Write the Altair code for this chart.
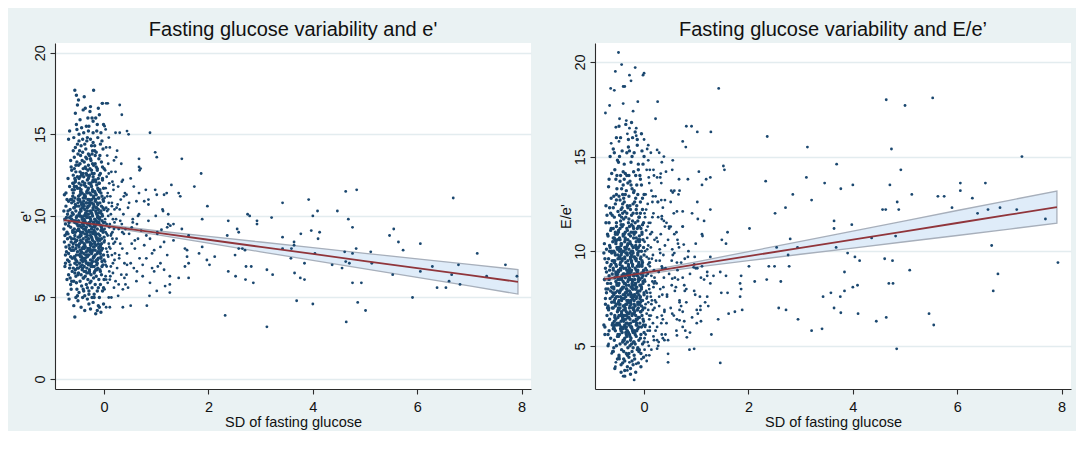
import altair as alt
import pandas as pd

# ---------------- data: left panel (e') ----------------
E_CORE_A = [(-0.77,9.2),(-0.76,8.4),(-0.75,9.8),(-0.74,7.1),(-0.73,10.6),(-0.72,8.9),(-0.71,6.1),(-0.76,11.3),(-0.74,9.5),(-0.72,7.8),(-0.70,10.1),(-0.73,8.1),(-0.71,11.0),(-0.75,6.9),(-0.77,10.3),(-0.70,8.6),(-0.72,9.9),(-0.74,7.6),(-0.71,9.0),(-0.73,11.4),(-0.70,7.3),(-0.75,8.8)]
E_CORE_B = [(-0.69,5.2),(-0.68,6.4),(-0.67,7.2),(-0.66,8.0),(-0.65,8.7),(-0.64,9.3),(-0.63,10.0),(-0.62,10.8),(-0.61,11.6),(-0.69,12.3),(-0.68,7.7),(-0.67,9.6),(-0.66,6.8),(-0.65,10.4),(-0.64,5.8),(-0.63,8.4),(-0.62,12.8),(-0.61,7.4),(-0.60,9.1),(-0.69,8.9),(-0.68,10.9),(-0.67,4.9),(-0.66,11.8),(-0.65,6.2),(-0.64,13.4),(-0.63,7.9),(-0.62,9.8),(-0.61,6.6),(-0.60,11.2),(-0.69,10.3),(-0.68,14.7),(-0.67,8.2),(-0.66,9.9),(-0.65,7.0),(-0.64,11.0),(-0.63,5.5),(-0.62,8.6),(-0.61,10.2),(-0.60,12.0),(-0.66,15.2),(-0.64,7.5),(-0.62,6.0),(-0.60,8.1),(-0.68,9.4),(-0.63,13.0)]
E_CORE_C = [(-0.56,3.8),(-0.56,17.7),(-0.53,17.4),(-0.55,16.3),(-0.58,14.8),(-0.52,15.3),(-0.59,14.0),(-0.57,13.6),(-0.54,13.1),(-0.51,14.4),(-0.59,12.5),(-0.58,12.0),(-0.57,11.6),(-0.56,11.1),(-0.55,10.7),(-0.54,10.3),(-0.53,9.9),(-0.52,9.5),(-0.51,9.1),(-0.50,8.7),(-0.59,8.3),(-0.58,7.9),(-0.57,7.5),(-0.56,7.1),(-0.55,6.7),(-0.54,6.3),(-0.53,5.9),(-0.52,5.5),(-0.51,5.1),(-0.50,4.8),(-0.59,10.1),(-0.58,9.7),(-0.57,9.2),(-0.56,8.8),(-0.55,8.4),(-0.54,8.0),(-0.53,7.6),(-0.52,7.2),(-0.51,6.8),(-0.50,6.4),(-0.59,11.4),(-0.58,10.9),(-0.57,10.5),(-0.56,9.6),(-0.55,12.2),(-0.54,12.7),(-0.53,11.8),(-0.52,13.3),(-0.51,12.4),(-0.50,11.0),(-0.58,6.0),(-0.56,6.5),(-0.54,7.3),(-0.52,8.5),(-0.50,9.4),(-0.57,8.6),(-0.55,9.0),(-0.53,10.6),(-0.51,7.8),(-0.59,9.0),(-0.57,12.9),(-0.55,14.2),(-0.53,15.6),(-0.51,16.8),(-0.52,10.0),(-0.54,5.0),(-0.58,4.5),(-0.50,13.8),(-0.56,12.3),(-0.53,8.2)]
E_CORE_D = [(-0.44,4.4),(-0.41,5.0),(-0.48,5.3),(-0.43,5.7),(-0.46,6.0),(-0.40,6.2),(-0.49,6.5),(-0.42,6.7),(-0.45,6.9),(-0.47,7.1),
(-0.44,7.3),(-0.41,7.4),(-0.48,7.6),(-0.43,7.8),(-0.46,7.9),(-0.40,8.1),(-0.49,8.2),(-0.42,8.4),(-0.45,8.5),(-0.47,8.7),
(-0.44,8.8),(-0.41,9.0),(-0.48,9.1),(-0.43,9.3),(-0.46,9.4),(-0.40,9.6),(-0.49,9.7),(-0.42,9.9),(-0.45,10.0),(-0.47,10.2),
(-0.44,10.3),(-0.41,10.5),(-0.48,10.6),(-0.43,10.8),(-0.46,10.9),(-0.40,11.1),(-0.49,11.2),(-0.42,11.4),(-0.45,11.5),(-0.47,11.7),
(-0.44,11.9),(-0.41,12.1),(-0.48,12.3),(-0.43,12.5),(-0.46,12.7),(-0.40,12.9),(-0.49,13.1),(-0.42,13.4),(-0.45,13.7),(-0.47,14.0),
(-0.44,14.3),(-0.41,14.7),(-0.48,15.0),(-0.43,15.4),(-0.46,15.9),(-0.40,16.5),(-0.49,17.1),(-0.42,7.0),(-0.45,7.7),(-0.47,8.3),
(-0.44,8.9),(-0.41,9.5),(-0.48,10.1),(-0.43,10.7),(-0.46,11.3),(-0.40,8.6),(-0.49,9.2),(-0.42,9.8),(-0.45,10.4),(-0.47,11.0),
(-0.44,6.4),(-0.41,7.2),(-0.48,12.0),(-0.43,12.6),(-0.46,13.2),(-0.40,5.5),(-0.49,6.8),(-0.42,8.0),(-0.45,9.0),(-0.47,10.0),
(-0.44,11.6),(-0.41,13.9),(-0.48,14.6),(-0.43,7.5),(-0.46,8.8)]
E_CORE_E = [(-0.37,4.2),(-0.32,4.9),(-0.39,5.4),(-0.34,5.8),(-0.31,6.1),(-0.36,6.3),(-0.38,6.6),(-0.33,6.8),(-0.30,7.0),(-0.35,7.2),
(-0.37,7.3),(-0.32,7.5),(-0.39,7.7),(-0.34,7.8),(-0.31,8.0),(-0.36,8.1),(-0.38,8.3),(-0.33,8.4),(-0.30,8.6),(-0.35,8.7),
(-0.37,8.9),(-0.32,9.0),(-0.39,9.2),(-0.34,9.3),(-0.31,9.5),(-0.36,9.6),(-0.38,9.8),(-0.33,9.9),(-0.30,10.1),(-0.35,10.2),
(-0.37,10.4),(-0.32,10.5),(-0.39,10.7),(-0.34,10.8),(-0.31,11.0),(-0.36,11.1),(-0.38,11.3),(-0.33,11.5),(-0.30,11.7),(-0.35,11.8),
(-0.37,12.0),(-0.32,12.2),(-0.39,12.4),(-0.34,12.6),(-0.31,12.8),(-0.36,13.0),(-0.38,13.3),(-0.33,13.5),(-0.30,13.8),(-0.35,14.1),
(-0.37,14.4),(-0.32,14.8),(-0.39,15.1),(-0.34,15.5),(-0.31,16.0),(-0.36,16.6),(-0.38,17.3),(-0.33,6.5),(-0.30,7.1),(-0.35,7.6),
(-0.37,8.2),(-0.32,8.8),(-0.39,9.4),(-0.34,10.0),(-0.31,10.6),(-0.36,11.2),(-0.38,11.9),(-0.33,12.5),(-0.30,13.1),(-0.35,9.1),
(-0.37,9.7),(-0.32,10.3),(-0.39,10.9),(-0.34,8.5),(-0.31,7.9),(-0.36,7.4),(-0.38,6.9),(-0.33,11.4),(-0.30,12.3),(-0.35,13.6),
(-0.37,5.1),(-0.32,5.6),(-0.39,6.2),(-0.34,8.9),(-0.31,9.5),(-0.36,10.1),(-0.38,10.6),(-0.33,14.6),(-0.30,15.2),(-0.35,12.9)]
E_CORE_F = [(-0.26,4.3),(-0.21,4.7),(-0.29,5.2),(-0.23,5.6),(-0.27,5.9),(-0.20,6.2),(-0.25,6.4),(-0.28,6.7),(-0.22,6.9),(-0.24,7.1),
(-0.26,7.3),(-0.21,7.4),(-0.29,7.6),(-0.23,7.8),(-0.27,7.9),(-0.20,8.1),(-0.25,8.2),(-0.28,8.4),(-0.22,8.5),(-0.24,8.7),
(-0.26,8.8),(-0.21,9.0),(-0.29,9.1),(-0.23,9.3),(-0.27,9.4),(-0.20,9.6),(-0.25,9.7),(-0.28,9.9),(-0.22,10.0),(-0.24,10.2),
(-0.26,10.3),(-0.21,10.5),(-0.29,10.6),(-0.23,10.8),(-0.27,10.9),(-0.20,11.1),(-0.25,11.3),(-0.28,11.4),(-0.22,11.6),(-0.24,11.8),
(-0.26,12.0),(-0.21,12.2),(-0.29,12.4),(-0.23,12.6),(-0.27,12.9),(-0.20,13.1),(-0.25,13.4),(-0.28,13.7),(-0.22,14.0),(-0.24,14.3),
(-0.26,14.7),(-0.21,15.1),(-0.29,15.5),(-0.23,16.0),(-0.27,16.4),(-0.20,17.7),(-0.25,6.0),(-0.28,6.6),(-0.22,7.2),(-0.24,7.7),
(-0.26,8.3),(-0.21,8.9),(-0.29,9.5),(-0.23,10.1),(-0.27,10.7),(-0.20,11.2),(-0.25,11.9),(-0.28,12.5),(-0.22,13.2),(-0.24,9.2),
(-0.26,9.8),(-0.21,10.4),(-0.29,11.0),(-0.23,8.6),(-0.27,8.0),(-0.20,7.5),(-0.25,7.0),(-0.28,6.5),(-0.22,12.1),(-0.24,12.8),
(-0.26,13.5),(-0.21,14.5),(-0.29,5.4),(-0.23,5.0),(-0.27,9.0),(-0.20,9.6),(-0.25,10.2),(-0.28,10.8),(-0.22,11.5),(-0.24,8.3),
(-0.26,16.7),(-0.21,15.8),(-0.29,4.6),(-0.23,13.8),(-0.27,7.8)]
E_CORE_G = [(-0.16,4.0),(-0.11,4.5),(-0.19,5.0),(-0.13,5.4),(-0.17,5.8),(-0.10,6.1),(-0.15,6.3),(-0.18,6.6),(-0.12,6.8),(-0.14,7.0),
(-0.16,7.2),(-0.11,7.4),(-0.19,7.5),(-0.13,7.7),(-0.17,7.9),(-0.10,8.0),(-0.15,8.2),(-0.18,8.3),(-0.12,8.5),(-0.14,8.6),
(-0.16,8.8),(-0.11,8.9),(-0.19,9.1),(-0.13,9.2),(-0.17,9.4),(-0.10,9.5),(-0.15,9.7),(-0.18,9.8),(-0.12,10.0),(-0.14,10.1),
(-0.16,10.3),(-0.11,10.4),(-0.19,10.6),(-0.13,10.8),(-0.17,10.9),(-0.10,11.1),(-0.15,11.3),(-0.18,11.5),(-0.12,11.7),(-0.14,11.9),
(-0.16,12.1),(-0.11,12.3),(-0.19,12.6),(-0.13,12.9),(-0.17,13.2),(-0.10,13.5),(-0.15,13.9),(-0.18,14.3),(-0.12,14.8),(-0.14,15.2),
(-0.16,16.0),(-0.11,16.6),(-0.19,6.5),(-0.13,7.1),(-0.17,7.6),(-0.10,8.1),(-0.15,8.7),(-0.18,9.3),(-0.12,9.9),(-0.14,10.5),
(-0.16,11.0),(-0.11,11.6),(-0.19,12.2),(-0.13,12.8),(-0.17,9.0),(-0.10,9.6),(-0.15,10.2),(-0.18,8.4),(-0.12,7.8),(-0.14,7.3),
(-0.16,6.7),(-0.11,5.6),(-0.19,5.2),(-0.13,4.2),(-0.17,11.4),(-0.10,12.0),(-0.15,13.0),(-0.18,14.0),(-0.12,10.7),(-0.14,9.5),
(-0.16,8.9),(-0.11,8.3),(-0.19,6.9),(-0.13,15.6),(-0.17,13.7)]
E_CORE_H = [(-0.06,4.1),(-0.01,4.6),(-0.09,5.0),(-0.03,5.4),(-0.07,5.8),(0.00,6.1),(-0.05,6.4),(-0.08,6.7),(-0.02,7.0),(-0.04,7.2),
(-0.06,7.4),(-0.01,7.6),(-0.09,7.8),(-0.03,8.0),(-0.07,8.2),(0.00,8.4),(-0.05,8.6),(-0.08,8.8),(-0.02,9.0),(-0.04,9.2),
(-0.06,9.4),(-0.01,9.6),(-0.09,9.8),(-0.03,10.0),(-0.07,10.2),(0.00,10.4),(-0.05,10.6),(-0.08,10.8),(-0.02,11.0),(-0.04,11.2),
(-0.06,11.4),(-0.01,11.7),(-0.09,12.0),(-0.03,12.3),(-0.07,12.6),(0.00,12.9),(-0.05,13.3),(-0.08,13.7),(-0.02,14.1),(-0.04,14.6),
(-0.06,15.1),(-0.01,15.6),(-0.09,16.2),(-0.03,16.9),(-0.07,6.6),(0.00,7.3),(-0.05,7.9),(-0.08,8.5),(-0.02,9.1),(-0.04,9.7),
(-0.06,10.3),(-0.01,10.9),(-0.09,11.5),(-0.03,12.2),(-0.07,8.1),(0.00,8.7),(-0.05,9.3),(-0.08,9.9),(-0.02,10.5),(-0.04,6.9),
(-0.06,7.5),(-0.01,5.6),(-0.09,4.4),(-0.03,13.0),(-0.07,14.4)]
E_CORE_X = [(-0.61,7.9),(-0.47,9.4),(-0.33,10.8),(-0.19,8.1),(-0.08,11.6),(-0.55,12.1),(-0.41,6.8),(-0.27,9.9),(-0.13,7.3),(-0.58,10.5),
(-0.44,11.4),(-0.30,8.6),(-0.16,12.2),(-0.06,9.1),(-0.52,7.0),(-0.38,8.0),(-0.24,11.0),(-0.10,10.2),(-0.60,9.0),(-0.46,12.4),
(-0.32,7.6),(-0.18,9.4),(-0.05,8.3),(-0.53,8.5),(-0.39,10.0),(-0.25,6.9),(-0.11,11.1),(-0.57,11.8),(-0.43,8.4),(-0.29,12.0),
(-0.15,10.5),(-0.07,7.7),(-0.50,10.8),(-0.36,9.2),(-0.22,7.9),(-0.12,9.9),(-0.59,6.8),(-0.45,7.5),(-0.31,11.6),(-0.17,8.9),
(-0.09,12.5),(-0.54,9.7),(-0.40,12.6),(-0.26,8.2),(-0.14,6.7),(-0.62,11.0),(-0.48,8.1),(-0.34,7.1),(-0.20,10.7),(-0.04,10.1),
(-0.56,7.4),(-0.42,10.5),(-0.28,9.6),(-0.21,12.4),(-0.10,8.6),(-0.51,11.7),(-0.37,11.2),(-0.23,9.0),(-0.13,9.6),(-0.35,6.6)]
E_SPREAD = [(0.04,4.4),(0.09,5.0),(0.01,5.5),(0.07,5.9),(0.03,6.3),(0.10,6.6),(0.05,6.9),(0.02,7.2),(0.08,7.5),(0.06,7.8),
(0.04,8.0),(0.09,8.3),(0.01,8.5),(0.07,8.8),(0.03,9.0),(0.10,9.3),(0.05,9.5),(0.02,9.8),(0.08,10.0),(0.06,10.3),
(0.04,10.5),(0.09,10.8),(0.01,11.1),(0.07,11.4),(0.03,11.7),(0.10,12.0),(0.05,12.4),(0.02,12.8),(0.08,13.2),(0.06,13.7),
(0.04,14.2),(0.09,14.8),(0.01,15.5),(0.07,16.9),(0.03,7.0),(0.10,8.1),(0.05,8.9),(0.02,9.6),(0.08,10.4),(0.06,11.2),
(0.04,6.1),(0.09,12.6),(0.01,9.2),(0.07,7.6),(0.03,15.3),
(0.14,5.0),(0.19,5.6),(0.11,6.1),(0.17,6.5),(0.13,6.9),(0.20,7.3),(0.15,7.6),(0.12,8.0),(0.18,8.3),(0.16,8.6),
(0.14,8.9),(0.19,9.2),(0.11,9.5),(0.17,9.8),(0.13,10.1),(0.20,10.4),(0.15,10.8),(0.12,11.2),(0.18,11.6),(0.16,12.1),
(0.14,12.7),(0.19,13.4),(0.11,14.2),(0.17,7.1),(0.13,8.8),(0.20,9.6),(0.15,10.6),(0.12,6.3),(0.18,11.9),(0.16,9.0),
(0.27,5.1),(0.36,5.5),(0.22,6.0),(0.33,6.4),(0.25,6.8),(0.39,7.1),(0.29,7.4),(0.21,7.7),(0.35,8.0),(0.31,8.3),(0.24,8.6),(0.38,8.9),(0.28,9.2),(0.34,9.5),(0.23,9.8),(0.37,10.1),(0.30,10.4),(0.26,10.7),(0.32,11.0),(0.40,11.4),
(0.27,11.8),(0.36,12.2),(0.22,12.7),(0.33,13.2),(0.25,14.0),(0.39,6.2),(0.29,7.6),(0.21,8.4),(0.35,9.0),(0.31,9.7),(0.24,10.5),(0.38,11.2),(0.28,5.8),(0.34,12.1),(0.23,13.6),
(0.46,5.6),(0.62,6.0),(0.43,6.4),(0.57,6.8),(0.51,7.1),(0.68,7.4),(0.44,7.7),(0.59,8.0),(0.53,8.3),(0.65,8.6),(0.48,8.9),(0.41,9.2),(0.63,9.5),(0.55,9.8),(0.67,10.1),
(0.46,10.5),(0.62,10.9),(0.43,11.3),(0.57,11.8),(0.51,12.3),(0.68,12.8),(0.44,7.0),(0.59,8.5),(0.53,9.3),(0.65,10.0),(0.48,10.8),(0.41,5.8),(0.63,6.6),(0.55,9.6),(0.67,13.0),
(0.74,6.3),(0.92,6.8),(1.08,7.1),(0.81,7.4),(1.21,7.6),(0.96,7.9),(0.77,8.2),(1.15,8.4),(0.88,8.6),(1.02,8.9),(0.71,9.1),(1.27,9.4),(0.85,9.7),(0.99,10.0),(1.12,10.4),
(0.74,7.0),(0.92,7.7),(1.08,8.1),(0.81,8.8),(1.21,9.3),(0.96,6.6),(0.77,10.9),(1.15,11.3),(0.88,5.9),(1.02,9.0)]
E_OUTLIERS = [(0.30,16.8),(0.34,16.2),(0.22,15.1),(0.30,15.1),(0.44,15.2),(0.47,15.0),(0.88,15.1),(0.98,13.9),(1.01,13.6),(0.67,13.5),(1.49,13.5),(0.70,12.9),(1.86,12.6),(1.29,11.9),(1.73,11.8),(0.67,11.4),(0.80,11.6),(0.98,11.6),(1.01,11.3),(1.20,11.4),(1.43,11.4),(1.46,11.2),(1.13,10.3),(0.85,11.0),(0.85,10.7),(1.98,10.6),(1.23,10.1),(1.88,9.8),(2.38,9.7),(2.75,10.1),(2.79,10.0),(2.93,9.7),(2.93,9.5),(3.21,9.9),(2.55,9.2),(2.58,9.0),(3.42,10.8),(3.92,11.0),(4.09,10.3),(4.00,10.0),(4.47,10.3),(4.63,11.5),(4.84,11.6),(4.68,9.8),(4.76,9.3),(3.97,9.1),(4.13,9.0),(4.10,8.6),(3.77,8.9),(3.42,8.7),(3.64,8.4),(5.47,8.8),(5.55,9.2),(5.64,8.4),(5.73,7.9),(6.06,8.3),(6.69,11.1),(7.15,7.7),(7.69,7.0),(7.91,6.3),(6.79,7.0),(6.29,6.9),(6.06,6.6),(5.53,6.4),(6.66,6.4),(7.33,6.3),(6.61,6.0),(6.82,5.8),(6.38,5.6),(6.55,5.6),(5.91,5.0),(4.76,5.9),(4.93,5.9),(4.86,4.7),(5.01,4.2),(4.64,3.5),(4.00,4.6),(3.69,4.8),(3.12,3.2),(2.32,3.9),(2.86,5.9),(3.12,6.7),(3.23,6.4),(2.72,6.9),(2.82,6.9),(2.71,6.1),(2.52,6.3),(2.38,6.6),(2.36,8.8),(2.51,7.6),(2.58,8.0),(2.65,8.0),(2.70,7.9),(1.97,7.3),(2.02,7.0),(2.12,7.5),(1.82,7.7),(1.88,8.1),(1.59,7.9),(1.55,8.0),(1.55,6.9),(1.62,7.1),(1.59,7.5),(1.62,6.2),(1.43,6.2),(1.26,6.3),(1.15,6.7),(1.03,6.9),(1.26,5.8),(1.17,5.7),(1.26,5.3),(1.01,5.4),(0.87,5.1),(0.82,4.5),(0.51,4.5),(0.36,4.4),(0.11,4.4),(3.42,8.0),(3.59,8.0),(3.64,8.2),(3.58,7.4),(3.65,6.5),(3.76,6.2),(3.84,6.1),(4.37,7.0),(4.56,6.8),(4.63,7.2),(4.70,7.1),(4.61,7.8),(4.83,8.0),(4.76,7.7),(5.11,7.8),(5.13,7.1),(4.04,7.7),(3.84,7.1),(-0.04,16.9),(0.04,16.9),(1.23,9.5),(1.33,9.5),(1.49,9.2),(1.62,8.8),(1.33,8.5),(1.10,9.15)]
E_FIT_X = [-0.77, 0, 1, 2, 3, 4, 5, 6, 7, 7.93]
E_FIT_Y = [9.74, 9.41, 8.97, 8.54, 8.10, 7.67, 7.23, 6.80, 6.37, 5.96]
E_CI_LO = [9.64, 9.34, 8.85, 8.33, 7.80, 7.28, 6.75, 6.23, 5.71, 5.21]
E_CI_HI = [9.84, 9.48, 9.09, 8.75, 8.40, 8.06, 7.71, 7.37, 7.03, 6.71]

# ---------------- data: right panel (E/e') ----------------
R_CORE_A = [(-0.77,6.1),(-0.76,8.5),(-0.75,9.6),(-0.74,7.2),(-0.73,11.5),(-0.72,8.9),(-0.71,6.6),(-0.76,10.4),(-0.74,9.1),(-0.72,7.8),(-0.70,10.9),(-0.73,8.0),(-0.71,11.9),(-0.75,6.0),(-0.77,9.9),(-0.70,8.3),(-0.72,10.1),(-0.74,7.5),(-0.71,9.4),(-0.73,12.4),(-0.70,7.0),(-0.75,5.6)]
R_CORE_B = [(-0.69,5.0),(-0.64,5.4),(-0.67,5.8),(-0.61,6.1),(-0.66,6.4),(-0.63,6.7),(-0.68,7.0),(-0.62,7.3),(-0.65,7.5),(-0.60,7.8),
(-0.69,8.0),(-0.64,8.3),(-0.67,8.5),(-0.61,8.8),(-0.66,9.0),(-0.63,9.3),(-0.68,9.6),(-0.62,9.9),(-0.65,10.2),(-0.60,10.5),
(-0.69,10.8),(-0.64,11.1),(-0.67,11.5),(-0.61,11.9),(-0.66,12.3),(-0.63,12.8),(-0.68,13.4),(-0.62,14.1),(-0.65,15.0),(-0.60,6.2),
(-0.69,7.1),(-0.64,7.9),(-0.67,8.7),(-0.61,9.5),(-0.66,10.3),(-0.63,11.2),(-0.68,6.9),(-0.62,8.1),(-0.65,9.2),(-0.60,4.7),
(-0.69,5.6),(-0.64,12.0),(-0.67,13.8),(-0.61,7.6),(-0.66,10.0)]
R_CORE_C = [(-0.56,3.8),(-0.51,4.3),(-0.59,4.7),(-0.53,5.0),(-0.57,5.3),(-0.50,5.6),(-0.55,5.8),(-0.58,6.0),(-0.52,6.2),(-0.54,6.4),
(-0.56,6.6),(-0.51,6.8),(-0.59,7.0),(-0.53,7.2),(-0.57,7.4),(-0.50,7.6),(-0.55,7.8),(-0.58,8.0),(-0.52,8.2),(-0.54,8.4),
(-0.56,8.6),(-0.51,8.8),(-0.59,9.0),(-0.53,9.2),(-0.57,9.4),(-0.50,9.6),(-0.55,9.8),(-0.58,10.0),(-0.52,10.2),(-0.54,10.4),
(-0.56,10.6),(-0.51,10.9),(-0.59,11.2),(-0.53,11.5),(-0.57,11.8),(-0.50,12.1),(-0.55,12.5),(-0.58,12.9),(-0.52,13.3),(-0.54,13.8),
(-0.56,14.3),(-0.51,14.8),(-0.59,15.4),(-0.53,16.0),(-0.57,5.9),(-0.50,6.5),(-0.55,7.1),(-0.58,7.7),(-0.52,8.3),(-0.54,8.9),
(-0.56,9.5),(-0.51,10.1),(-0.59,10.7),(-0.53,11.3),(-0.57,6.3),(-0.50,6.9),(-0.55,7.5),(-0.58,8.1),(-0.52,8.7),(-0.54,9.3),
(-0.56,9.9),(-0.51,5.5),(-0.59,12.3),(-0.53,13.0),(-0.57,7.3),(-0.50,8.5),(-0.55,11.0),(-0.58,4.9),(-0.52,14.0),(-0.54,10.5),
(-0.56,6.1),(-0.51,7.9),(-0.59,9.1),(-0.53,12.7),(-0.57,15.2)]
R_CORE_D = [(-0.44,3.6),(-0.41,4.1),(-0.48,4.5),(-0.43,4.8),(-0.46,5.1),(-0.40,5.3),(-0.49,5.5),(-0.42,5.7),(-0.45,5.9),(-0.47,6.1),
(-0.44,6.3),(-0.41,6.5),(-0.48,6.6),(-0.43,6.8),(-0.46,7.0),(-0.40,7.1),(-0.49,7.3),(-0.42,7.5),(-0.45,7.6),(-0.47,7.8),
(-0.44,8.0),(-0.41,8.1),(-0.48,8.3),(-0.43,8.5),(-0.46,8.6),(-0.40,8.8),(-0.49,9.0),(-0.42,9.2),(-0.45,9.4),(-0.47,9.6),
(-0.44,9.8),(-0.41,10.0),(-0.48,10.2),(-0.43,10.4),(-0.46,10.6),(-0.40,10.8),(-0.49,11.0),(-0.42,11.3),(-0.45,11.6),(-0.47,11.9),
(-0.44,12.2),(-0.41,12.5),(-0.48,12.9),(-0.43,13.3),(-0.46,13.7),(-0.40,14.2),(-0.49,14.7),(-0.42,15.3),(-0.45,16.0),(-0.47,5.6),
(-0.44,6.0),(-0.41,6.4),(-0.48,6.9),(-0.43,7.4),(-0.46,7.9),(-0.40,8.4),(-0.49,8.9),(-0.42,9.5),(-0.45,10.1),(-0.47,10.7),
(-0.44,11.4),(-0.41,12.0),(-0.48,6.2),(-0.43,6.7),(-0.46,7.2),(-0.40,7.7),(-0.49,8.2),(-0.42,8.7),(-0.45,9.1),(-0.47,9.7),
(-0.44,10.3),(-0.41,5.2),(-0.48,4.4),(-0.43,11.8),(-0.46,12.7),(-0.40,13.5),(-0.49,7.0),(-0.42,8.0),(-0.45,9.0),(-0.47,10.0),
(-0.44,5.8),(-0.41,6.6),(-0.48,7.4),(-0.43,8.6),(-0.46,9.3),(-0.40,10.9),(-0.49,11.1),(-0.42,12.3),(-0.45,14.0),(-0.47,15.0),
(-0.44,4.0),(-0.41,13.0),(-0.48,16.6),(-0.43,9.9),(-0.46,7.9)]
R_CORE_E = [(-0.37,3.4),(-0.32,3.9),(-0.39,4.3),(-0.34,4.6),(-0.31,4.9),(-0.36,5.1),(-0.38,5.3),(-0.33,5.5),(-0.30,5.7),(-0.35,5.9),
(-0.37,6.1),(-0.32,6.2),(-0.39,6.4),(-0.34,6.6),(-0.31,6.7),(-0.36,6.9),(-0.38,7.1),(-0.33,7.2),(-0.30,7.4),(-0.35,7.6),
(-0.37,7.7),(-0.32,7.9),(-0.39,8.1),(-0.34,8.2),(-0.31,8.4),(-0.36,8.6),(-0.38,8.8),(-0.33,9.0),(-0.30,9.2),(-0.35,9.4),
(-0.37,9.6),(-0.32,9.8),(-0.39,10.0),(-0.34,10.2),(-0.31,10.4),(-0.36,10.6),(-0.38,10.9),(-0.33,11.2),(-0.30,11.5),(-0.35,11.8),
(-0.37,12.1),(-0.32,12.4),(-0.39,12.8),(-0.34,13.2),(-0.31,13.6),(-0.36,14.1),(-0.38,14.6),(-0.33,15.2),(-0.30,15.9),(-0.35,16.7),
(-0.37,5.4),(-0.32,5.8),(-0.39,6.3),(-0.34,6.8),(-0.31,7.3),(-0.36,7.8),(-0.38,8.3),(-0.33,8.8),(-0.30,9.3),(-0.35,9.9),
(-0.37,10.5),(-0.32,11.1),(-0.39,11.7),(-0.34,6.0),(-0.31,6.5),(-0.36,7.0),(-0.38,7.5),(-0.33,8.0),(-0.30,8.5),(-0.35,9.1),
(-0.37,9.7),(-0.32,10.3),(-0.39,4.7),(-0.34,5.6),(-0.31,12.3),(-0.36,13.0),(-0.38,6.6),(-0.33,7.4),(-0.30,8.7),(-0.35,10.1),
(-0.37,4.2),(-0.32,5.2),(-0.39,6.9),(-0.34,8.0),(-0.31,9.5),(-0.36,11.0),(-0.38,12.6),(-0.33,14.0),(-0.30,15.5),(-0.35,7.2),
(-0.37,3.7),(-0.32,4.5),(-0.39,6.0),(-0.34,7.8),(-0.31,8.9),(-0.36,10.7),(-0.38,13.8),(-0.33,12.0),(-0.30,9.0),(-0.35,6.4)]
R_CORE_F = [(-0.26,3.5),(-0.21,4.0),(-0.29,4.4),(-0.23,4.7),(-0.27,5.0),(-0.20,5.2),(-0.25,5.4),(-0.28,5.6),(-0.22,5.8),(-0.24,6.0),
(-0.26,6.2),(-0.21,6.3),(-0.29,6.5),(-0.23,6.7),(-0.27,6.8),(-0.20,7.0),(-0.25,7.2),(-0.28,7.3),(-0.22,7.5),(-0.24,7.7),
(-0.26,7.8),(-0.21,8.0),(-0.29,8.2),(-0.23,8.3),(-0.27,8.5),(-0.20,8.7),(-0.25,8.9),(-0.28,9.1),(-0.22,9.3),(-0.24,9.5),
(-0.26,9.7),(-0.21,9.9),(-0.29,10.1),(-0.23,10.3),(-0.27,10.5),(-0.20,10.7),(-0.25,11.0),(-0.28,11.3),(-0.22,11.6),(-0.24,11.9),
(-0.26,12.2),(-0.21,12.5),(-0.29,12.9),(-0.23,13.3),(-0.27,13.7),(-0.20,14.2),(-0.25,14.7),(-0.28,15.3),(-0.22,16.0),(-0.24,16.8),
(-0.26,5.3),(-0.21,5.7),(-0.29,6.1),(-0.23,6.6),(-0.27,7.1),(-0.20,7.6),(-0.25,8.1),(-0.28,8.6),(-0.22,9.2),(-0.24,9.8),
(-0.26,10.4),(-0.21,11.0),(-0.29,11.7),(-0.23,5.9),(-0.27,6.4),(-0.20,6.9),(-0.25,7.4),(-0.28,7.9),(-0.22,8.4),(-0.24,9.0),
(-0.26,9.6),(-0.21,10.2),(-0.29,4.6),(-0.23,4.2),(-0.27,12.4),(-0.20,13.1),(-0.25,6.0),(-0.28,7.0),(-0.22,8.0),(-0.24,9.4),
(-0.26,10.8),(-0.21,12.0),(-0.29,14.0),(-0.23,15.0),(-0.27,5.5),(-0.20,6.3),(-0.25,7.6),(-0.28,8.8),(-0.22,10.0),(-0.24,11.4),
(-0.26,3.8),(-0.21,4.9),(-0.29,6.7),(-0.23,8.5),(-0.27,9.9),(-0.20,11.2),(-0.25,13.5),(-0.28,7.3),(-0.22,8.2),(-0.24,5.1)]
R_CORE_G = [(-0.16,3.6),(-0.11,4.1),(-0.19,4.5),(-0.13,4.8),(-0.17,5.1),(-0.10,5.3),(-0.15,5.5),(-0.18,5.7),(-0.12,5.9),(-0.14,6.1),
(-0.16,6.3),(-0.11,6.5),(-0.19,6.7),(-0.13,6.9),(-0.17,7.1),(-0.10,7.3),(-0.15,7.5),(-0.18,7.7),(-0.12,7.9),(-0.14,8.1),
(-0.16,8.3),(-0.11,8.5),(-0.19,8.7),(-0.13,8.9),(-0.17,9.1),(-0.10,9.3),(-0.15,9.5),(-0.18,9.7),(-0.12,9.9),(-0.14,10.1),
(-0.16,10.3),(-0.11,10.6),(-0.19,10.9),(-0.13,11.2),(-0.17,11.5),(-0.10,11.8),(-0.15,12.2),(-0.18,12.6),(-0.12,13.0),(-0.14,13.5),
(-0.16,14.0),(-0.11,14.6),(-0.19,15.2),(-0.13,15.9),(-0.17,5.6),(-0.10,6.0),(-0.15,6.4),(-0.18,6.8),(-0.12,7.2),(-0.14,7.6),
(-0.16,8.0),(-0.11,8.4),(-0.19,8.8),(-0.13,9.2),(-0.17,9.6),(-0.10,10.0),(-0.15,10.5),(-0.18,11.0),(-0.12,11.6),(-0.14,6.2),
(-0.16,6.6),(-0.11,7.0),(-0.19,7.4),(-0.13,7.8),(-0.17,8.2),(-0.10,8.6),(-0.15,9.0),(-0.18,4.3),(-0.12,4.9),(-0.14,12.0),
(-0.16,12.8),(-0.11,14.3),(-0.19,5.2),(-0.13,6.9),(-0.17,8.3),(-0.10,9.4),(-0.15,10.7),(-0.18,5.8),(-0.12,7.3),(-0.14,8.8),
(-0.16,10.2),(-0.11,11.3),(-0.19,13.2),(-0.13,15.6),(-0.17,16.3),(-0.10,4.7),(-0.15,6.1),(-0.18,7.7),(-0.12,9.8),(-0.14,12.4)]
R_CORE_H = [(-0.06,3.9),(-0.01,4.4),(-0.09,4.8),(-0.03,5.1),(-0.07,5.4),(0.00,5.7),(-0.05,6.0),(-0.08,6.2),(-0.02,6.4),(-0.04,6.6),
(-0.06,6.8),(-0.01,7.0),(-0.09,7.2),(-0.03,7.4),(-0.07,7.6),(0.00,7.8),(-0.05,8.0),(-0.08,8.2),(-0.02,8.4),(-0.04,8.6),
(-0.06,8.8),(-0.01,9.0),(-0.09,9.2),(-0.03,9.4),(-0.07,9.6),(0.00,9.8),(-0.05,10.0),(-0.08,10.3),(-0.02,10.6),(-0.04,10.9),
(-0.06,11.2),(-0.01,11.5),(-0.09,11.8),(-0.03,12.2),(-0.07,12.6),(0.00,13.0),(-0.05,13.5),(-0.08,14.0),(-0.02,14.6),(-0.04,15.3),
(-0.06,5.6),(-0.01,6.1),(-0.09,6.5),(-0.03,6.9),(-0.07,7.3),(0.00,7.7),(-0.05,8.1),(-0.08,8.5),(-0.02,8.9),(-0.04,9.3),
(-0.06,9.7),(-0.01,10.2),(-0.09,10.8),(-0.03,11.4),(-0.07,12.0),(0.00,5.2),(-0.05,7.1),(-0.08,7.9),(-0.02,8.7),(-0.04,9.5),
(-0.06,4.6),(-0.01,6.3),(-0.09,10.5),(-0.03,12.8),(-0.07,13.8),(0.00,15.0),(-0.05,16.2),(-0.08,7.5),(-0.02,8.3),(-0.04,11.0)]
R_CORE_X = [(-0.61,7.0),(-0.47,8.5),(-0.33,9.9),(-0.19,7.2),(-0.08,10.6),(-0.55,10.9),(-0.41,5.9),(-0.27,8.9),(-0.13,6.4),(-0.58,9.5),
(-0.44,10.4),(-0.30,7.7),(-0.16,11.0),(-0.06,8.2),(-0.52,6.1),(-0.38,7.1),(-0.24,10.0),(-0.10,9.3),(-0.60,8.1),(-0.46,11.2),
(-0.32,6.7),(-0.18,8.5),(-0.05,7.4),(-0.53,7.6),(-0.39,9.1),(-0.25,6.0),(-0.11,10.2),(-0.57,10.7),(-0.43,7.5),(-0.29,10.9),
(-0.15,9.6),(-0.07,6.8),(-0.50,9.8),(-0.36,8.3),(-0.22,7.0),(-0.12,9.0),(-0.59,5.9),(-0.45,6.6),(-0.31,10.6),(-0.17,8.0),
(-0.09,11.3),(-0.54,8.8),(-0.40,11.4),(-0.26,7.3),(-0.14,5.8),(-0.62,10.0),(-0.48,7.2),(-0.34,6.2),(-0.20,9.7),(-0.04,9.2),
(-0.56,6.5),(-0.42,9.6),(-0.28,8.7),(-0.21,11.3),(-0.10,7.7),(-0.51,10.6),(-0.37,10.2),(-0.23,8.1),(-0.13,8.7),(-0.35,5.7)]
R_SPREAD = [(0.04,4.5),(0.09,5.0),(0.01,5.4),(0.07,5.8),(0.03,6.1),(0.10,6.4),(0.05,6.7),(0.02,7.0),(0.08,7.3),(0.06,7.6),
(0.04,7.9),(0.09,8.2),(0.01,8.5),(0.07,8.8),(0.03,9.1),(0.10,9.4),(0.05,9.7),(0.02,10.0),(0.08,10.3),(0.06,10.7),
(0.04,11.1),(0.09,11.5),(0.01,12.0),(0.07,12.5),(0.03,13.0),(0.10,13.6),(0.05,14.3),(0.02,6.0),(0.08,6.9),(0.06,7.8),
(0.04,8.7),(0.09,9.6),(0.01,10.5),(0.07,11.3),(0.03,5.6),(0.10,6.6),(0.05,7.5),(0.02,8.4),(0.08,9.3),(0.06,10.1),
(0.04,12.2),(0.09,13.9),(0.01,4.8),(0.07,5.2),(0.03,7.2),(0.10,8.0),(0.05,9.0),(0.02,11.8),(0.08,14.8),(0.06,15.4),
(0.14,4.8),(0.19,5.3),(0.11,5.8),(0.17,6.2),(0.13,6.6),(0.20,7.0),(0.15,7.4),(0.12,7.8),(0.18,8.1),(0.16,8.4),
(0.14,8.7),(0.19,9.0),(0.11,9.4),(0.17,9.8),(0.13,10.2),(0.20,10.6),(0.15,11.0),(0.12,11.5),(0.18,12.0),(0.16,12.6),
(0.14,13.2),(0.19,14.0),(0.11,6.0),(0.17,6.9),(0.13,7.6),(0.20,8.6),(0.15,9.6),(0.12,10.9),(0.18,5.5),(0.16,11.8),
(0.14,7.2),(0.19,8.3),(0.11,9.2),(0.17,12.9),(0.13,15.2),
(0.27,5.0),(0.36,5.4),(0.22,5.8),(0.33,6.2),(0.25,6.5),(0.39,6.8),(0.29,7.1),(0.21,7.4),(0.35,7.7),(0.31,8.0),(0.24,8.3),(0.38,8.6),(0.28,8.9),(0.34,9.2),(0.23,9.5),(0.37,9.8),(0.30,10.1),(0.26,10.5),(0.32,10.9),(0.40,11.3),
(0.27,11.8),(0.36,12.3),(0.22,12.9),(0.33,13.6),(0.25,6.0),(0.39,6.9),(0.29,7.6),(0.21,8.4),(0.35,9.1),(0.31,9.9),(0.24,10.7),(0.38,11.6),(0.28,5.2),(0.34,6.6),(0.23,7.3),(0.37,8.1),(0.30,9.5),(0.26,12.6),(0.32,14.1),(0.40,10.3),
(0.46,5.3),(0.62,5.8),(0.43,6.2),(0.57,6.6),(0.51,7.0),(0.68,7.3),(0.44,7.6),(0.59,7.9),(0.53,8.2),(0.65,8.5),(0.48,8.8),(0.41,9.1),(0.63,9.4),(0.55,9.8),(0.67,10.2),
(0.46,10.6),(0.62,11.0),(0.43,11.5),(0.57,12.0),(0.51,12.6),(0.68,6.9),(0.44,7.7),(0.59,8.6),(0.53,9.5),(0.65,10.4),(0.48,11.2),(0.41,5.6),(0.63,6.4),(0.55,13.1),(0.67,13.8),
(0.74,6.0),(0.92,6.5),(1.08,6.9),(0.81,7.3),(1.21,7.6),(0.96,7.9),(0.77,8.2),(1.15,8.5),(0.88,8.8),(1.02,9.1),(0.71,9.4),(1.27,9.7),(0.85,10.0),(0.99,10.4),(1.12,10.8),
(0.74,11.3),(0.92,12.0),(1.08,7.1),(0.81,8.0),(1.21,8.7),(0.96,9.3),(0.77,6.3),(1.15,11.6),(0.88,5.7),(1.02,12.6)]
R_UPPER = [(-0.49,20.5),(-0.43,19.86),(-0.55,19.5),(-0.17,19.7),(-0.02,19.3),(0.0,19.4),(-0.28,19.3),(-0.25,19.0),(-0.40,18.7),(-0.37,18.7),(-0.64,18.6),(-0.57,18.5),(-0.66,17.7),(-0.74,17.3),(-0.40,17.8),(-0.12,17.9),(-0.21,17.4),(0.22,17.0),(0.26,17.9),(-0.47,17.0),(-0.54,16.55),(-0.34,16.9),(-0.28,16.5),(-0.15,16.5),(-0.15,16.1),(-0.32,16.2),(-0.63,15.7),(-0.48,15.8),(0.0,15.9),(0.08,15.6),(0.25,15.35),(0.29,15.2),(0.38,15.0),(0.55,14.8),(0.34,14.7),(0.11,14.3),(0.18,14.3),(0.42,14.2),(0.54,14.3),(0.25,13.9),(0.31,13.9),(0.52,13.2),(0.58,13.2),(0.68,13.2),(0.40,12.7),(0.33,12.7),(0.27,12.6),(0.66,13.0),(0.74,12.1),(0.63,12.1),(0.48,11.3),(0.51,11.3),(0.74,11.3),(0.34,11.85),(0.34,11.7),(0.58,10.9),(0.64,10.6),(0.76,10.35),(0.54,10.1),(0.58,9.9),(0.78,9.6),(0.84,9.7),(0.64,9.0),(0.74,8.6),(0.61,8.1),(0.78,7.9),(0.54,8.55),(0.68,7.4),(0.71,7.1),(0.54,6.7),(0.74,6.8),(0.68,6.35),(0.63,5.55),(0.39,5.3),(0.34,5.6),(0.25,5.3),(0.36,6.4),(0.25,4.85),(0.10,4.5),(0.05,4.2),(-0.05,4.3),(-0.15,4.05),(-0.28,4.13),(-0.32,3.7),(-0.40,3.4),(-0.19,3.2),(-0.55,3.9),(-0.54,4.13),(-0.47,4.3),(-0.62,4.6),(-0.68,5.1)]
R_OUTLIERS = [(1.43,18.6),(2.36,16.06),(1.28,16.3),(1.02,16.3),(0.81,16.6),(0.91,16.6),(0.74,15.8),(0.80,15.5),(1.52,14.5),(1.54,14.3),(1.27,13.9),(1.05,14.2),(1.19,13.8),(1.11,13.5),(1.27,12.2),(0.84,13.8),(2.33,13.7),(3.13,15.5),(3.11,13.9),(2.85,13.0),(3.21,12.7),(2.51,12.0),(2.71,12.3),(2.80,10.65),(2.02,11.2),(1.60,11.0),(1.57,10.4),(1.49,10.6),(1.03,11.7),(1.11,10.9),(3.46,13.6),(3.69,14.6),(3.77,13.3),(4.00,13.5),(3.98,11.4),(3.64,11.6),(3.64,11.2),(4.64,18.0),(5.00,17.7),(5.53,18.1),(4.74,15.4),(4.92,14.3),(4.71,13.5),(5.13,13.0),(4.85,12.6),(4.88,12.2),(4.57,12.2),(4.63,12.2),(5.63,12.9),(5.75,12.9),(5.90,12.3),(6.06,13.6),(6.06,13.2),(6.29,12.8),(6.54,13.6),(6.39,12.0),(6.59,12.2),(6.82,12.3),(7.14,12.2),(7.24,15.0),(7.69,11.7),(7.93,9.4),(6.66,10.3),(6.78,8.8),(6.69,7.9),(4.82,10.8),(4.36,10.7),(4.61,9.6),(4.76,9.5),(4.04,9.7),(4.13,9.5),(3.90,9.9),(3.68,10.2),(5.09,9.0),(4.69,8.3),(4.77,8.3),(4.00,8.1),(4.09,8.2),(3.84,7.9),(3.84,8.9),(3.58,7.8),(3.76,7.6),(3.43,7.6),(3.64,7.0),(3.77,6.75),(4.10,6.7),(4.45,6.3),(4.64,6.5),(5.46,6.7),(5.55,6.1),(4.84,4.84),(3.41,5.9),(3.21,5.8),(2.95,6.4),(2.58,7.0),(2.72,6.9),(2.76,9.8),(2.94,10.2),(2.78,9.2),(2.54,10.2),(2.62,8.4),(2.50,9.2),(2.39,9.2),(2.35,8.5),(2.12,8.4),(2.01,9.2),(1.86,8.7),(1.84,8.3),(1.86,8.0),(1.84,7.6),(1.88,6.9),(1.74,6.8),(1.62,6.7),(1.60,7.8),(1.48,7.8),(1.42,6.4),(1.46,4.1),(1.29,5.6),(1.17,7.3),(1.23,7.1),(1.09,6.3),(1.01,6.2),(1.03,6.7),(1.01,6.9),(1.07,7.6),(0.98,7.7),(1.33,8.7),(1.27,8.3),(1.21,8.9),(1.46,8.9),(1.57,8.7),(1.09,8.6),(1.11,9.2),(0.97,9.7),(0.99,9.1),(0.95,9.15),(0.87,4.8),(0.96,4.84),(0.79,5.8),(0.82,5.45),(0.46,4.58),(0.46,4.13)]
R_FIT_X = [-0.76, 0, 1, 2, 3, 4, 5, 6, 7, 7.91]
R_FIT_Y = [8.53, 8.86, 9.30, 9.74, 10.18, 10.61, 11.05, 11.49, 11.93, 12.33]
R_CI_LO = [8.43, 8.78, 9.16, 9.50, 9.84, 10.16, 10.50, 10.83, 11.17, 11.48]
R_CI_HI = [8.63, 8.94, 9.44, 9.98, 10.52, 11.06, 11.60, 12.15, 12.69, 13.18]

X_TICKS = [0, 2, 4, 6, 8]
E_TICKS = [0, 5, 10, 15, 20]
R_TICKS = [5, 10, 15, 20]

# ---------------- styling ----------------
FONT = "Liberation Sans, Arial, Helvetica, sans-serif"
NAVY = "#1A476F"
MAROON = "#90353B"
BG = "#EAF2F3"
INK = "#111111"


def points_frame(*groups):
    rows = [p for g in groups for p in g]
    return pd.DataFrame(rows, columns=["x", "y"])


def panel(core, rest, fx, fy, lo, hi, ydom, yticks, ytitle, title):
    xsc = alt.Scale(domain=[-0.94, 8.18], nice=False, zero=False)
    ysc = alt.Scale(domain=ydom, nice=False, zero=False)
    xax = alt.Axis(values=X_TICKS, grid=False, labelPadding=6, titlePadding=2,
                   labelAngle=0, labelFlush=False)
    yax = alt.Axis(values=yticks, grid=True, labelAngle=270, labelAlign="center",
                   labelBaseline="bottom", labelPadding=3, titlePadding=-1)
    xt = "SD of fasting glucose"
    X = lambda f: alt.X(f"{f}:Q", scale=xsc, axis=xax, title=xt)
    Y = lambda f: alt.Y(f"{f}:Q", scale=ysc, axis=yax, title=ytitle)
    fit = pd.DataFrame({"x": fx, "fit": fy, "lo": lo, "hi": hi})
    band = alt.Chart(fit).mark_area(fill="#DFECF9", stroke="#A7AFBB", strokeWidth=1.3).encode(
        x=X("x"), y=Y("lo"), y2="hi:Q")
    dots_core = alt.Chart(core).mark_circle(size=12, color=NAVY, opacity=1).encode(
        x=X("x"), y=Y("y"))
    dots_rest = alt.Chart(rest).mark_circle(size=8, color=NAVY, opacity=1).encode(
        x=X("x"), y=Y("y"))
    line = alt.Chart(fit).mark_line(color=MAROON, strokeWidth=1.8).encode(
        x=X("x"), y=Y("fit"))
    return alt.layer(band, dots_rest, dots_core, line).properties(
        width=476, height=346,
        title=alt.Title(title, font=FONT, fontSize=20, fontWeight="normal", color=INK,
                        anchor="middle", frame="group", offset=3),
    )


left = panel(points_frame(E_CORE_A, E_CORE_B, E_CORE_C, E_CORE_D, E_CORE_E, E_CORE_F,
                          E_CORE_G, E_CORE_H, E_CORE_X),
             points_frame(E_SPREAD, E_OUTLIERS),
             E_FIT_X, E_FIT_Y, E_CI_LO, E_CI_HI, [-0.61, 20.6], E_TICKS, "e'",
             "Fasting glucose variability and e'")
right = panel(points_frame(R_CORE_A, R_CORE_B, R_CORE_C, R_CORE_D, R_CORE_E, R_CORE_F,
                           R_CORE_G, R_CORE_H, R_CORE_X),
              points_frame(R_SPREAD, R_UPPER, R_OUTLIERS),
              R_FIT_X, R_FIT_Y, R_CI_LO, R_CI_HI, [2.72, 21.0], R_TICKS, "E/e\u2019",
              "Fasting glucose variability and E/e\u2019")

chart = alt.hconcat(left, right, spacing=27).configure(
    background=BG,
    padding={"left": 10, "top": 12, "right": 5, "bottom": 2},
    font=FONT,
).configure_view(
    fill="white", strokeWidth=0,
).configure_axis(
    domainColor="#2b2b2b", tickColor="#2b2b2b", labelColor=INK, titleColor=INK,
    labelFont=FONT, titleFont=FONT, labelFontSize=14.5, titleFontSize=14.5,
    titleFontWeight="normal", tickSize=5, gridColor="#E3ECEF", gridWidth=1.5,
    domainWidth=1.1, tickWidth=1.1,
)

chart.save("out.html", embed_options={"renderer": "svg", "actions": False})
